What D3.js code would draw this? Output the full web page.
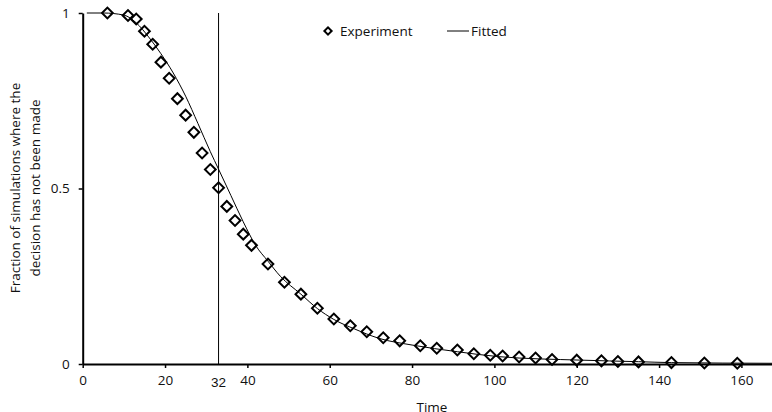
<!DOCTYPE html>
<html>
<head>
<meta charset="utf-8">
<script src="https://cdn.jsdelivr.net/npm/d3@7"></script>
<style>
  body { margin: 0; background: #fff; }
  svg { font-family: "Open Sans", sans-serif; }
</style>
</head>
<body>
<svg id="chart" width="772" height="412"></svg>
<script>
// experiment: time vs fraction of simulations still undecided
var expTime = [6, 11, 13, 15, 17, 19, 21, 23, 25, 27, 29, 31, 33, 35, 37, 39, 41, 45, 49, 53,
               57, 61, 65, 69, 73, 77, 82, 86, 91, 95, 99, 102, 106, 110, 114, 120, 126, 130, 135, 143, 151, 159];
var expFraction = [1.0, 0.993, 0.983, 0.948, 0.911, 0.860, 0.814, 0.756, 0.709, 0.660, 0.601, 0.554, 0.502, 0.449,
                   0.409, 0.370, 0.338, 0.285, 0.233, 0.199, 0.159, 0.128, 0.109, 0.092, 0.075, 0.066, 0.052,
                   0.045, 0.040, 0.029, 0.025, 0.023, 0.020, 0.017, 0.013, 0.011, 0.009, 0.007, 0.006, 0.004,
                   0.003, 0.002];

// fitted curve
var fitTime = [1, 5, 10, 13, 16, 19, 22, 25, 28, 31, 33, 36, 39, 42, 45, 48, 53, 57, 61, 66, 72, 80, 91, 101,
               121, 135, 143, 168];
var fitFraction = [1, 1, 0.994, 0.972, 0.932, 0.884, 0.829, 0.763, 0.685, 0.605, 0.555, 0.48, 0.405, 0.338, 0.293,
                   0.25, 0.199, 0.158, 0.127, 0.100, 0.073, 0.054, 0.035, 0.021, 0.011, 0.0066, 0.004, 0.002];

var xTicks = [0, 20, 40, 60, 80, 100, 120, 140, 160];
var yTicks = [0, 0.5, 1];
var markLine = 33;
var markLabel = "32";

var plotLeft = 82.7, plotTop = 13, plotBottom = 364;

var svg = d3.select("#chart");

var x = d3.scaleLinear().domain([0, 168]).range([plotLeft, plotLeft + 168 * 4.117]);
var y = d3.scaleLinear().domain([0, 1]).range([plotBottom, plotTop]);

// vertical marker line
svg.append("line")
    .attr("x1", x(markLine)).attr("x2", x(markLine))
    .attr("y1", y(1)).attr("y2", y(0))
    .attr("stroke", "#000")
    .attr("stroke-width", 1);

// axes
var xAxis = svg.append("g")
    .attr("transform", "translate(0," + plotBottom + ")")
    .call(d3.axisBottom(x).tickValues(xTicks).tickSize(4).tickPadding(7).tickSizeOuter(0).tickFormat(d3.format("d")));

var yAxis = svg.append("g")
    .attr("transform", "translate(" + plotLeft + ",0)")
    .call(d3.axisLeft(y).tickValues(yTicks).tickSize(4).tickPadding(9).tickSizeOuter(0).tickFormat(d => d));

[xAxis, yAxis].forEach(function(a) {
  a.select(".domain").attr("stroke", "#000").attr("stroke-width", 2);
  a.selectAll(".tick line").attr("stroke", "#000").attr("stroke-width", 1.5);
  a.selectAll(".tick text").attr("fill", "#111").style("font-size", "13.5px").style("font-family", "Open Sans, sans-serif");
});

xAxis.append("text")
    .attr("x", x(markLine))
    .attr("y", 13)
    .attr("dy", "0.71em")
    .attr("fill", "#111")
    .style("font-size", "13.5px")
    .style("text-anchor", "middle")
    .text(markLabel);

// fitted line
var line = d3.line()
    .x(d => x(d[0]))
    .y(d => y(d[1]))
    .curve(d3.curveMonotoneX);

svg.append("path")
    .datum(fitTime.map((t, i) => [t, fitFraction[i]]))
    .attr("d", line)
    .attr("fill", "none")
    .attr("stroke", "#000")
    .attr("stroke-width", 1);

// experiment markers (square turned 45deg)
var diamond = d3.symbol().type(d3.symbolSquare).size(58);

svg.append("g")
    .selectAll("path")
    .data(expTime.map((t, i) => [t, expFraction[i]]))
    .enter()
    .append("path")
      .attr("d", diamond)
      .attr("transform", d => "translate(" + x(d[0]) + "," + y(d[1]) + ") rotate(45)")
      .attr("fill", "none")
      .attr("stroke", "#000")
      .attr("stroke-width", 2);

// axis titles
svg.append("text")
    .attr("x", 432)
    .attr("y", 412)
    .attr("fill", "#111")
    .style("font-size", "13.5px")
    .style("text-anchor", "middle")
    .text("Time");

var yTitle = svg.append("text")
    .attr("transform", "translate(0,188) rotate(-90)")
    .attr("fill", "#111")
    .style("font-size", "13.5px")
    .style("text-anchor", "middle");
yTitle.append("tspan").attr("x", 0).attr("y", 20).text("Fraction of simulations where the");
yTitle.append("tspan").attr("x", 0).attr("y", 40).text("decision has not been made");

// legend
var legend = svg.append("g").attr("transform", "translate(0,31)");
legend.append("path")
    .attr("d", d3.symbol().type(d3.symbolSquare).size(26))
    .attr("transform", "translate(328,0) rotate(45)")
    .attr("fill", "none")
    .attr("stroke", "#000")
    .attr("stroke-width", 2);
legend.append("text")
    .attr("x", 340).attr("y", 0).attr("dy", "0.35em")
    .attr("fill", "#111").style("font-size", "13.5px")
    .text("Experiment");
legend.append("line")
    .attr("x1", 447).attr("x2", 469).attr("y1", 0).attr("y2", 0)
    .attr("stroke", "#000").attr("stroke-width", 1);
legend.append("text")
    .attr("x", 471).attr("y", 0).attr("dy", "0.35em")
    .attr("fill", "#111").style("font-size", "13.5px")
    .text("Fitted");
</script>
</body>
</html>
